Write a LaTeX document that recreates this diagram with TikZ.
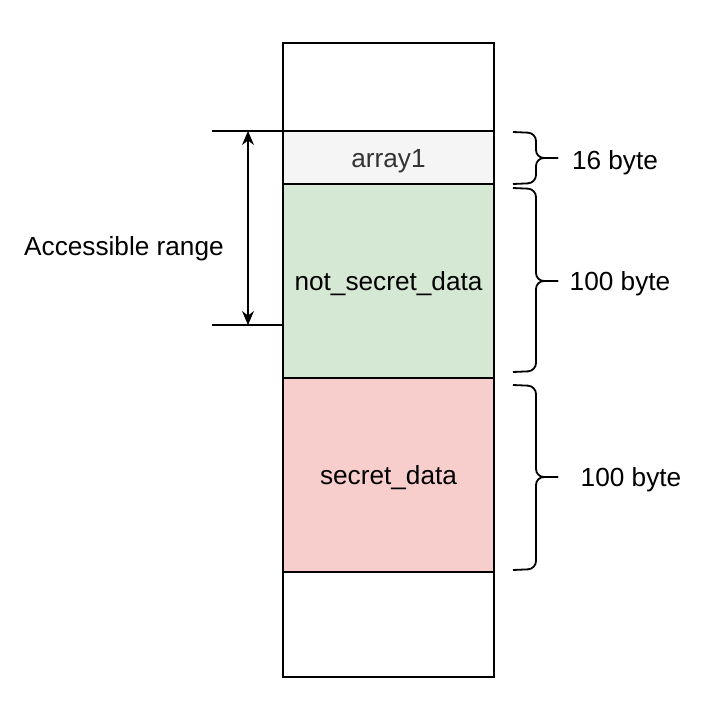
\documentclass[tikz,border=0pt]{standalone}
\usepackage{fontspec}
\setmainfont{Liberation Sans}
\usetikzlibrary{arrows.meta}
\definecolor{arrayfill}{HTML}{F5F5F5}
\definecolor{greenfill}{HTML}{D5E8D4}
\definecolor{redfill}{HTML}{F8CECC}
\tikzset{
  block/.style={draw, line width=0.7pt, minimum width=105.5pt, inner sep=0pt, outer sep=0pt},
  bytebrace/.style={line width=0.9pt, rounded corners=4pt},
  label/.style={font=\fontsize{13.1}{15.7}\selectfont, inner sep=0pt, text height=11pt, text depth=1.4pt}
}
\begin{document}
\begin{tikzpicture}[x=0.5pt, y=-0.5pt]
            \useasboundingbox[fill=white] (0, 0) rectangle (706, 707);
            \node[block, minimum height=44pt] (top) at (388.5, 87) {};
            \node[block, fill=arrayfill, minimum height=26.5pt, label, text=black!80] (array) at (388.5, 157.5) {array1};
            \node[block, fill=greenfill, minimum height=97pt, label] (notsecret) at (388.5, 281) {not\_secret\_data};
            \node[block, fill=redfill, minimum height=97pt, label] (secret) at (388.5, 475) {secret\_data};
            \node[block, minimum height=52.5pt] (bottom) at (388.5, 624.5) {};
            \coordinate (rangetop) at (212, 131);
            \coordinate (rangebot) at (212, 325);
            \draw[line width=0.6pt] (rangetop) -- (array.north west);
            \draw[line width=0.6pt] (rangebot) -- (rangebot -| notsecret.west);
            \draw[line width=0.75pt, {Stealth[length=7pt, width=6pt]}-{Stealth[length=7pt, width=6pt]}] (248, 131) -- (248, 325);
            \node[label] (range) at (124, 246) {Accessible range};
            \draw[bytebrace] (513, 132) -- (536, 133) -- (536, 158) -- (558, 158);
            \draw[bytebrace] (558, 158) -- (536, 158) -- (536, 183) -- (513, 184);
            \draw[bytebrace] (513, 188) -- (536, 189) -- (536, 281) -- (558, 281);
            \draw[bytebrace] (558, 281) -- (536, 281) -- (536, 371) -- (513, 372);
            \draw[bytebrace] (513, 385) -- (536, 386) -- (536, 477) -- (558, 477);
            \draw[bytebrace] (558, 477) -- (536, 477) -- (536, 569) -- (513, 570);
            \node[label] (arraysize) at (615, 160) {16 byte};
            \node[label] (notsecretsize) at (620, 281) {100 byte};
            \node[label] (secretsize) at (631, 477) {100 byte};
        \end{tikzpicture}
\end{document}
